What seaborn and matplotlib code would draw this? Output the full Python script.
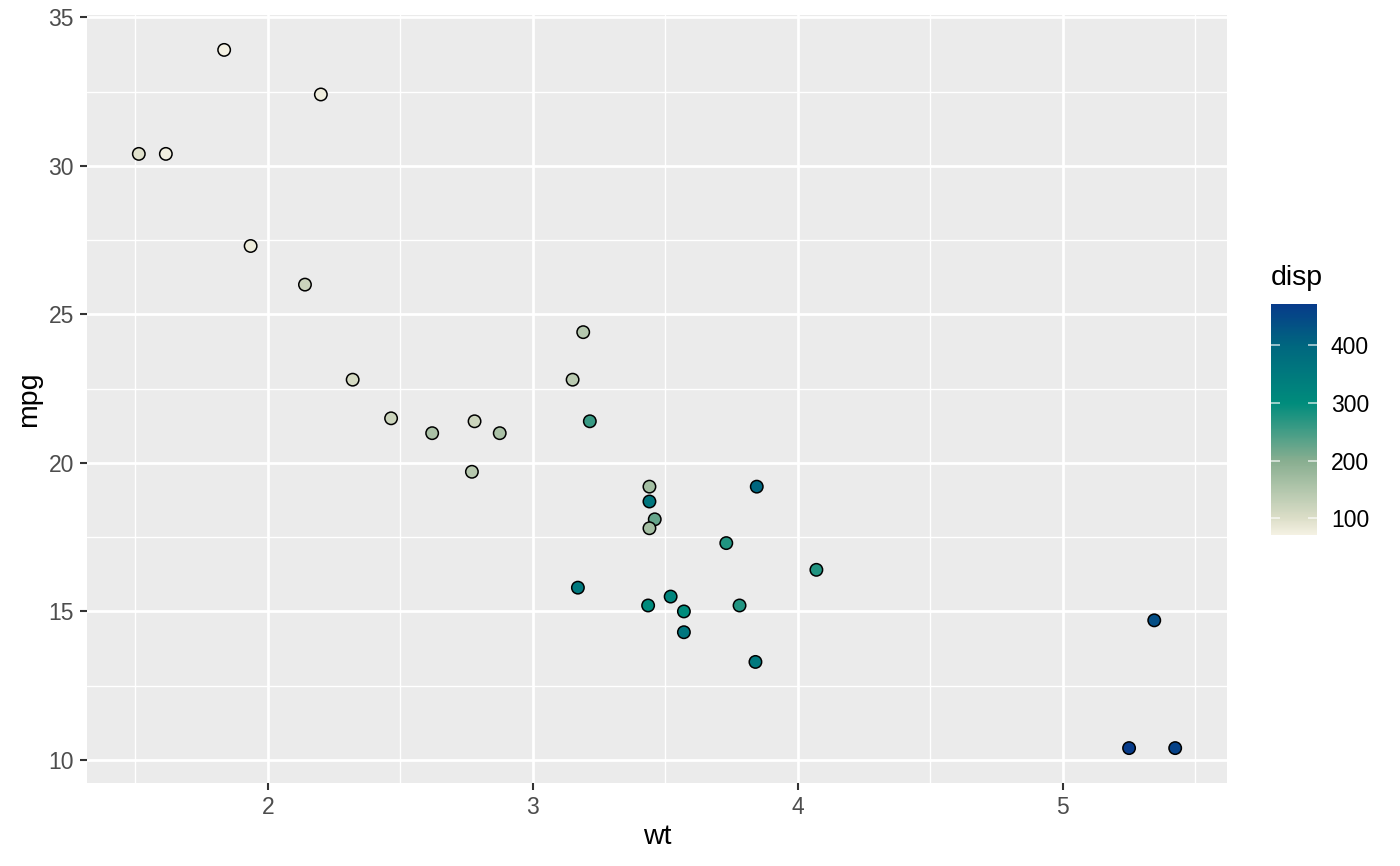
import numpy as np
import pandas as pd
import matplotlib
matplotlib.use("Agg")
import matplotlib.pyplot as plt
from matplotlib.colors import LinearSegmentedColormap, Normalize
from matplotlib.cm import ScalarMappable
import seaborn as sns

# mtcars: peso, consumo y cilindrada
wt = [2.620, 2.875, 2.320, 3.215, 3.440, 3.460, 3.570, 3.190, 3.150, 3.440, 3.440,
      4.070, 3.730, 3.780, 5.250, 5.424, 5.345, 2.200, 1.615, 1.835, 2.465, 3.520,
      3.435, 3.840, 3.845, 1.935, 2.140, 1.513, 3.170, 2.770, 3.570, 2.780]
mpg = [21.0, 21.0, 22.8, 21.4, 18.7, 18.1, 14.3, 24.4, 22.8, 19.2, 17.8,
       16.4, 17.3, 15.2, 10.4, 10.4, 14.7, 32.4, 30.4, 33.9, 21.5, 15.5,
       15.2, 13.3, 19.2, 27.3, 26.0, 30.4, 15.8, 19.7, 15.0, 21.4]
disp = [160.0, 160.0, 108.0, 258.0, 360.0, 225.0, 360.0, 146.7, 140.8, 167.6, 167.6,
        275.8, 275.8, 275.8, 472.0, 460.0, 440.0, 78.7, 75.7, 71.1, 120.1, 318.0,
        304.0, 350.0, 400.0, 79.0, 120.3, 95.1, 351.0, 145.0, 301.0, 121.0]

x_ticks = [2, 3, 4, 5]
y_ticks = [10, 15, 20, 25, 30, 35]
cbar_ticks = [100, 200, 300, 400]

df = pd.DataFrame({"wt": wt, "mpg": mpg, "disp": disp})

cmap = LinearSegmentedColormap.from_list("disp", [
    (0.00, "#F4F1E3"),
    (0.07, "#DCDEC8"),
    (0.32, "#88AE90"),
    (0.57, "#008C7C"),
    (0.82, "#00677F"),
    (1.00, "#073B8A"),
])
norm = Normalize(vmin=min(disp), vmax=max(disp))

sns.set_theme(style="darkgrid")
plt.rcParams["font.family"] = ["Liberation Sans", "DejaVu Sans"]

fig = plt.figure(figsize=(14, 8.66), dpi=100)
ax = fig.add_axes([87 / 1400, 83 / 866, 1140 / 1400, 768 / 866])
ax.set_facecolor("#EBEBEB")

sns.scatterplot(data=df, x="wt", y="mpg", hue="disp", palette=cmap, hue_norm=norm,
                s=80, edgecolor="black", linewidth=1.1, legend=False, ax=ax, zorder=3)

# rangos con expansión del 5%
xr = max(wt) - min(wt)
yr = max(mpg) - min(mpg)
ax.set_xlim(min(wt) - 0.05 * xr, max(wt) + 0.05 * xr)
ax.set_ylim(min(mpg) - 0.05 * yr, max(mpg) + 0.05 * yr)

ax.set_xticks(x_ticks)
ax.set_yticks(y_ticks)
ax.set_xticks([1.5, 2.5, 3.5, 4.5, 5.5], minor=True)
ax.set_yticks([12.5, 17.5, 22.5, 27.5, 32.5], minor=True)
ax.grid(which="major", color="white", linewidth=2.0)
ax.grid(which="minor", color="white", linewidth=1.0)
ax.set_axisbelow(True)
for s in ax.spines.values():
    s.set_visible(False)

ax.tick_params(which="major", length=5.3, width=1.5, color="#333333",
               labelsize=16.5, labelcolor="#4D4D4D", pad=4,
               bottom=True, left=True)
ax.tick_params(which="minor", length=0)
ax.set_xlabel("wt", fontsize=20.5, color="black", labelpad=4)
ax.set_ylabel("mpg", fontsize=20.5, color="black", labelpad=5)

# barra de color
cax = fig.add_axes([1271 / 1400, 331 / 866, 46 / 1400, 231 / 866])
cb = fig.colorbar(ScalarMappable(norm=norm, cmap=cmap), cax=cax)
cb.outline.set_visible(False)
cb.set_ticks(cbar_ticks)
cax.grid(False)
cax.set_axisbelow(False)
cax.tick_params(direction="in", length=6.5, width=1.2, color=(1, 1, 1, 0.7),
                left=True, right=True, labelleft=False, labelright=True,
                labelsize=16.5, labelcolor="black", pad=10)
cax.set_title("disp", fontsize=20.5, loc="left", pad=14, color="black")

plt.savefig("out.png", dpi=100)
